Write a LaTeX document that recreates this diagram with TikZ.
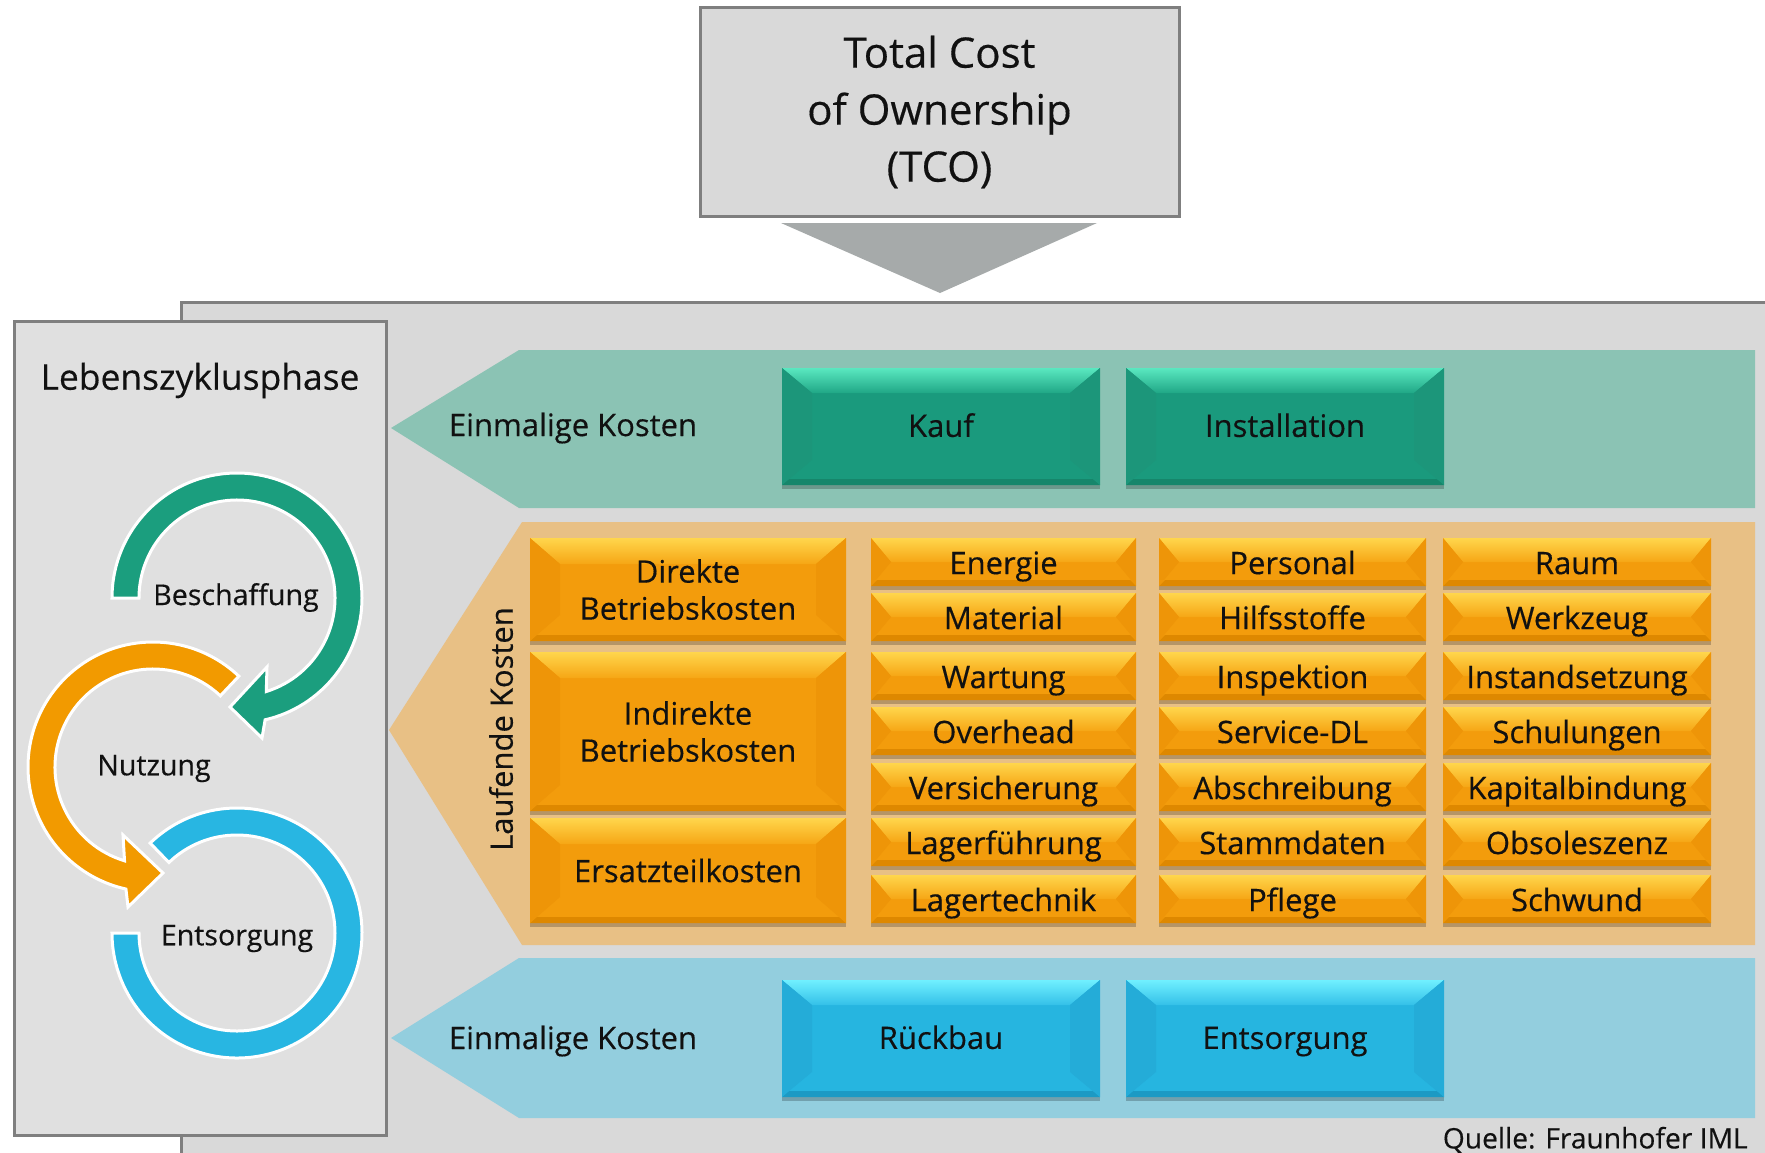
\documentclass[tikz,border=0pt]{standalone}
\usepackage{fontspec}
\setmainfont{Open Sans}[FakeBold=0.35]
\usetikzlibrary{calc,shadows}

\definecolor{panel}{HTML}{D9D9D9}
\definecolor{lbox}{HTML}{E0E0E0}
\definecolor{bord}{HTML}{7F7F7F}
\definecolor{tri}{HTML}{A6AAAA}
\definecolor{tband}{HTML}{8BC3B4}
\definecolor{oband}{HTML}{E8C085}
\definecolor{bband}{HTML}{93CEDE}
\definecolor{tealT}{HTML}{5AE8C0}
\definecolor{tealM}{HTML}{20A786}
\definecolor{tealF}{HTML}{1A9A7D}
\definecolor{tealS}{HTML}{1C967A}
\definecolor{tealB}{HTML}{16866B}
\definecolor{orT}{HTML}{FFD64C}
\definecolor{orM}{HTML}{F6A615}
\definecolor{orF}{HTML}{F39C0C}
\definecolor{orS}{HTML}{EE9508}
\definecolor{orB}{HTML}{DE8800}
\definecolor{blT}{HTML}{70F0FF}
\definecolor{blM}{HTML}{34C0E8}
\definecolor{blF}{HTML}{26B5E0}
\definecolor{blS}{HTML}{24ACD8}
\definecolor{blB}{HTML}{1C9AC4}
\definecolor{arcG}{HTML}{1B9E7E}
\definecolor{arcO}{HTML}{F29A00}
\definecolor{arcB}{HTML}{28B6E2}
\definecolor{txt}{HTML}{111111}

\tikzset{
  bevel/.style n args={7}{rectangle, inner sep=0pt, align=center, text=txt, fill=#3, draw=none,
    drop shadow={shadow xshift=0pt,shadow yshift=-2pt,opacity=0.22,fill=black},
    path picture={
      \path (path picture bounding box.north west) coordinate (pnw)
            (path picture bounding box.north east) coordinate (pne)
            (path picture bounding box.south west) coordinate (psw)
            (path picture bounding box.south east) coordinate (pse);
      \fill[#5] (psw) -- ([shift={(3pt,3pt)}]psw) -- ([shift={(-3pt,3pt)}]pse) -- (pse) -- cycle;
      \shade[top color=#1, bottom color=#2] (pnw) -- (pne) -- ([shift={(-#6pt,-#7pt)}]pne) -- ([shift={(#6pt,-#7pt)}]pnw) -- cycle;
      \fill[#4] (pnw) -- ([shift={(#6pt,-#7pt)}]pnw) -- ([shift={(#6pt,#7pt)}]psw) -- (psw) -- cycle;
      \fill[#4] (pne) -- ([shift={(-#6pt,-#7pt)}]pne) -- ([shift={(-#6pt,#7pt)}]pse) -- (pse) -- cycle;
    }},
  bigline/.style={text height=11.6pt, text depth=1.2pt},
  smallline/.style={text height=12.4pt, text depth=0.3pt},
  tealbox/.style={bevel={tealT}{tealM}{tealF}{tealS}{tealB}{15}{12.5}, bigline, font=\fontsize{15.5}{18.5}\selectfont},
  bluebox/.style={bevel={blT}{blM}{blF}{blS}{blB}{15}{12.5}, bigline, font=\fontsize{15.5}{18.5}\selectfont},
  obig/.style={bevel={orT}{orM}{orF}{orS}{orB}{15}{13}, font=\fontsize{15.5}{18.5}\selectfont},
  osmall/.style={bevel={orT}{orM}{orF}{orS}{orB}{10}{12}, smallline, font=\fontsize{15.5}{18.5}\selectfont},
  lbl/.style={inner sep=0pt, text=txt, font=\fontsize{15.5}{18.5}\selectfont},
  arclbl/.style={inner sep=0pt, text=txt, font=\fontsize{14.3}{17}\selectfont},
  arcshape/.style={fill=#1, draw=white, line width=1.5pt, line join=miter},
}

\newcommand{\cbox}[7]{\node[#1, minimum width={(#5-#3)*0.5pt}, minimum height={(#6-#4)*0.5pt}] (#2) at ({(#3+#5)/2},{(#4+#6)/2}) {#7};}

\begin{document}
\begin{tikzpicture}[x=0.5pt,y=-0.5pt]
\useasboundingbox (0,0) rectangle (1765,1152);
\fill[white] (0,0) rectangle (1765,1152);

% big panel
\filldraw[fill=panel, draw=bord, line width=1.5pt] (181,302) rectangle (1780,1170);

% TCO box and arrow
\node[draw=bord, fill=panel, line width=1.5pt, minimum width={479*0.5pt}, minimum height={209*0.5pt},
      align=center, text=txt, font=\fontsize{21}{28.5}\selectfont] (tco) at (939.5,112)
      {Total Cost\\of Ownership\\(TCO)};
\coordinate (tl) at (781,223);
\coordinate (tr) at (1097,223);
\coordinate (tip) at (940,293);
\fill[tri] (tl) -- (tr) -- (tip) -- cycle;

% Lebenszyklus box
\filldraw[fill=lbox, draw=bord, line width=1.5pt] (14,321) rectangle (386,1135);
\node[inner sep=0pt, text=txt, font=\fontsize{17.7}{21}\selectfont] (lzp) at (200,380.5) {Lebenszyklusphase};

% bands
\fill[tband] (391,428) -- (519,350) -- (1755,350) -- (1755,508) -- (519,508) -- cycle;
\fill[oband] (389,730) -- (522,522) -- (1755,522) -- (1755,945) -- (522,945) -- cycle;
\fill[bband] (391,1038) -- (519,958) -- (1755,958) -- (1755,1118) -- (519,1118) -- cycle;

\node[lbl] (ek1) at (573,428) {Einmalige Kosten};
\node[lbl] (ek2) at (573,1041) {Einmalige Kosten};
\node[lbl, rotate=90] (lk) at (501,729) {Laufende Kosten};

% teal and blue boxes
\cbox{tealbox}{kauf}{782}{368}{1100}{485}{Kauf}
\cbox{tealbox}{inst}{1126}{368}{1444}{485}{Installation}
\cbox{bluebox}{rueck}{782}{980}{1100}{1097}{Rückbau}
\cbox{bluebox}{entsb}{1126}{980}{1444}{1097}{Entsorgung}

% orange boxes
\cbox{obig}{dbk}{530}{538}{846}{641}{Direkte\\Betriebskosten}
\cbox{obig}{ibk}{530}{652}{846}{811}{Indirekte\\Betriebskosten}
\cbox{obig}{etk}{530}{818}{846}{923}{Ersatzteilkosten}

\foreach \n/\ya/\yb/\ta/\tb/\tc in {
  1/538/586/Energie/Personal/Raum,
  2/593/641/Material/Hilfsstoffe/Werkzeug,
  3/652/700/Wartung/Inspektion/Instandsetzung,
  4/707/755/Overhead/Service-DL/Schulungen,
  5/763/811/Versicherung/Abschreibung/Kapitalbindung,
  6/818/866/Lagerführung/Stammdaten/Obsoleszenz,
  7/875/923/Lagertechnik/Pflege/Schwund}{
  \cbox{osmall}{ca\n}{871}{\ya}{1136}{\yb}{\ta}
  \cbox{osmall}{cb\n}{1159}{\ya}{1426}{\yb}{\tb}
  \cbox{osmall}{cc\n}{1443}{\ya}{1711}{\yb}{\tc}
}

% cycle arrows
\coordinate (Cg) at (237,598);
\coordinate (Co) at (153,767);
\coordinate (Cb) at (237,933);
\path[arcshape=arcB] ($(Cb)+(226:125)$) arc[start angle=226, end angle=540, radius=125]
   -- ($(Cb)+(180:98)$) arc[start angle=540, end angle=226, radius=98] -- cycle;
\path[arcshape=arcO] ($(Co)+(-46.6:125)$) arc[start angle=-46.6, end angle=-257.5, radius=125]
   -- (128,907) -- (163,873) -- (123,835) -- ($(Co)+(-253.1:98)$)
   arc[start angle=-253.1, end angle=-46.6, radius=98] -- cycle;
\path[arcshape=arcG] ($(Cg)+(180:125)$) arc[start angle=180, end angle=437, radius=125]
   -- (262,738) -- (230,707) -- (267,667) -- ($(Cg)+(72.6:98)$)
   arc[start angle=432.6, end angle=180, radius=98] -- cycle;

\node[arclbl] (besch) at (236,597.5) {Beschaffung};
\node[arclbl] (nutz) at (154,768.5) {Nutzung};
\node[arclbl] (ents) at (237,938.5) {Entsorgung};

% source
\node[inner sep=0pt, anchor=east, text=txt, font=\fontsize{14.1}{17}\selectfont] (src) at (1748,1140) {Quelle: Fraunhofer IML};
\end{tikzpicture}
\end{document}
